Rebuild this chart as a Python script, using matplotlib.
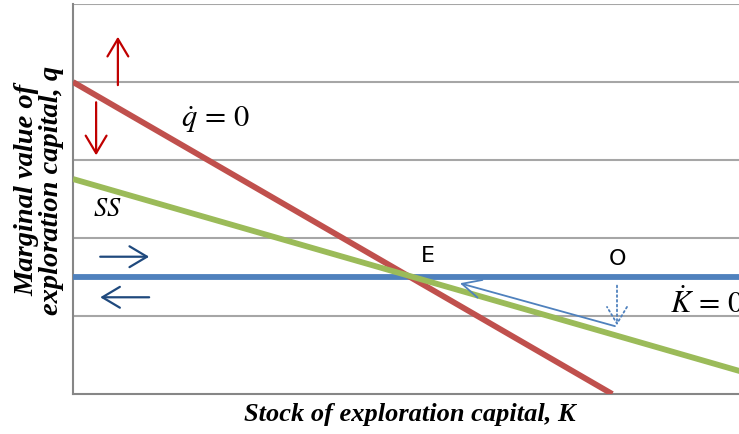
import matplotlib.pyplot as plt
import numpy as np

plt.rcParams['mathtext.fontset'] = 'stix'

# curves (K, q) end points
k_qdot = [0.0, 7.93]
q_qdot = [4.0, 0.0]
k_ss = [0.0, 10.0]
q_ss = [2.756, 0.245]
k_kdot = [0.0, 10.0]
q_kdot = [1.5, 1.5]

grid_levels = [1, 2, 3, 4, 5]

red = '#C0504D'
green = '#9BBB59'
blue = '#4F81BD'
dark_red = '#C00000'
navy = '#1F497D'

fig = plt.figure(figsize=(7.39, 4.35), dpi=100)
ax = fig.add_axes([73 / 739, 40 / 435, 680 / 739, 390 / 435])
ax.set_xlim(0, 10)
ax.set_ylim(0, 5)

for g in grid_levels:
    ax.axhline(g, color='#a6a6a6', lw=1.5, zorder=1)

ax.plot(k_kdot, q_kdot, color=blue, lw=4.2, solid_capstyle='butt', zorder=3)
ax.plot(k_qdot, q_qdot, color=red, lw=4.2, solid_capstyle='butt', zorder=4)
ax.plot(k_ss, q_ss, color=green, lw=4.2, solid_capstyle='butt', zorder=5)

# direction arrows
def arrow(x0, y0, x1, y1, color, lw=1.6, ls='-', hw=0.25, hl=0.42):
    ax.annotate('', xy=(x1, y1), xytext=(x0, y0),
                arrowprops=dict(arrowstyle='->,head_width=%g,head_length=%g' % (hw, hl),
                                color=color, lw=lw, ls=ls,
                                shrinkA=0, shrinkB=0, mutation_scale=30),
                zorder=6)

arrow(0.66, 3.96, 0.66, 4.58, dark_red)
arrow(0.34, 3.74, 0.34, 3.06, dark_red)
arrow(0.40, 1.76, 1.12, 1.76, navy)
arrow(1.12, 1.24, 0.40, 1.24, navy)
arrow(7.97, 0.87, 5.69, 1.42, blue, lw=1.3, hw=0.22, hl=0.45)
arrow(8.00, 1.39, 8.00, 0.88, blue, lw=1.3, ls=':', hw=0.24, hl=0.4)

ax.text(2.1, 3.53, r'$\dot{q}\,=\,0$', fontsize=22, ha='center', va='center')
ax.text(0.5, 2.38, r'$SS$', fontsize=19, ha='center', va='center')
ax.text(5.22, 1.78, 'E', fontsize=16, ha='center', va='center')
ax.text(8.0, 1.74, 'O', fontsize=16, ha='center', va='center')
ax.text(8.78, 1.18, r'$\dot{K}\,=\,0$', fontsize=22, ha='left', va='center')

ax.set_xticks([])
ax.set_yticks([])
for s in ['top', 'right']:
    ax.spines[s].set_visible(False)
for s in ['left', 'bottom']:
    ax.spines[s].set_color('#868686')
    ax.spines[s].set_linewidth(1.5)

ax.set_xlabel('Stock of exploration capital, K', fontsize=19, fontweight='bold',
              fontstyle='italic', family='Liberation Serif')
ax.set_ylabel('Marginal value of\nexploration capital, q', fontsize=20.5,
              fontweight='bold', fontstyle='italic', family='Liberation Serif',
              linespacing=1.0)
ax.xaxis.set_label_coords(337 / 680, -8 / 390)
ax.yaxis.set_label_coords(-9 / 680, 0.525)

fig.savefig('out.png', dpi=100)
